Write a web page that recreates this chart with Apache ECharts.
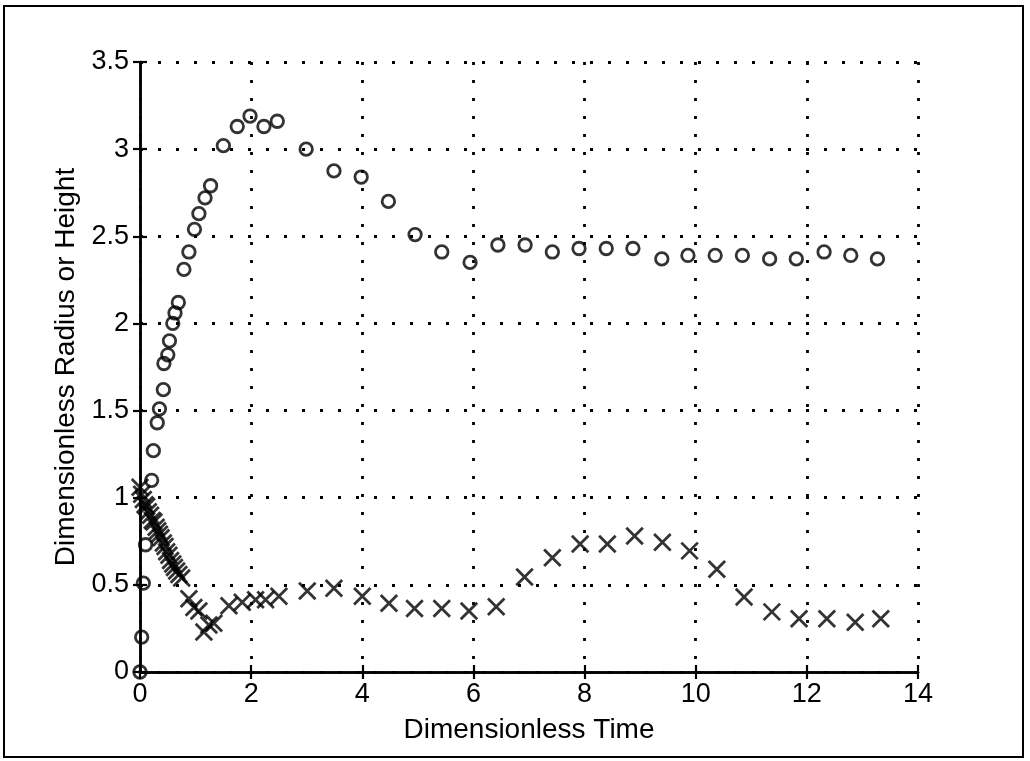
<!DOCTYPE html>
<html>
<head>
<meta charset="utf-8">
<script src="https://cdn.jsdelivr.net/npm/echarts@6/dist/echarts.min.js"></script>
<style>
  html, body { margin: 0; padding: 0; background: #fff; }
  #chart { width: 1030px; height: 761px; }
</style>
</head>
<body>
<div id="chart"></div>
<script>
// Dimensionless radius (circles) versus dimensionless time
const radiusTime = [0, 0.03, 0.06, 0.10, 0.21, 0.24, 0.31, 0.35, 0.42, 0.43, 0.50, 0.53,
  0.59, 0.63, 0.69, 0.79, 0.88, 0.98, 1.06, 1.17, 1.27, 1.50, 1.75, 1.98, 2.23, 2.47,
  2.99, 3.49, 3.98, 4.47, 4.95, 5.43, 5.94, 6.44, 6.93, 7.42, 7.90, 8.39, 8.87, 9.39,
  9.86, 10.35, 10.84, 11.33, 11.81, 12.31, 12.79, 13.27];
const radiusValues = [0, 0.20, 0.51, 0.73, 1.10, 1.27, 1.43, 1.51, 1.62, 1.77, 1.82, 1.90,
  2.00, 2.06, 2.12, 2.31, 2.41, 2.54, 2.63, 2.72, 2.79, 3.02, 3.13, 3.19, 3.13, 3.16,
  3.00, 2.875, 2.84, 2.70, 2.51, 2.41, 2.35, 2.45, 2.45, 2.41, 2.43, 2.43, 2.43, 2.37,
  2.39, 2.39, 2.39, 2.37, 2.37, 2.41, 2.39, 2.37];

// Dimensionless height (crosses) versus dimensionless time
const heightTime = [0, 0.03, 0.06, 0.09, 0.12, 0.15, 0.19, 0.22, 0.25, 0.29, 0.32, 0.35,
  0.38, 0.42, 0.45, 0.48, 0.52, 0.55, 0.59, 0.62, 0.66, 0.70, 0.75, 0.88, 0.97, 1.06,
  1.15, 1.24, 1.33, 1.60, 1.84, 2.08, 2.26, 2.50, 3.01, 3.49, 4.00, 4.48, 4.94, 5.43,
  5.92, 6.41, 6.92, 7.42, 7.92, 8.41, 8.90, 9.40, 9.89, 10.38, 10.87, 11.37, 11.86,
  12.36, 12.87, 13.33];
const heightValues = [1.06, 1.02, 0.99, 0.96, 0.95, 0.92, 0.90, 0.87, 0.86, 0.83, 0.81, 0.79,
  0.77, 0.74, 0.72, 0.69, 0.67, 0.64, 0.62, 0.60, 0.58, 0.56, 0.54, 0.42, 0.37, 0.35,
  0.23, 0.27, 0.28, 0.38, 0.40, 0.415, 0.415, 0.435, 0.465, 0.48, 0.435, 0.395, 0.365, 0.365,
  0.35, 0.375, 0.545, 0.655, 0.735, 0.735, 0.78, 0.745, 0.695, 0.59, 0.43, 0.345, 0.305,
  0.305, 0.285, 0.305];

const xTicks = { min: 0, max: 14, interval: 2 };
const yTicks = { min: 0, max: 3.5, interval: 0.5 };

const FONT = 'Liberation Sans, Arial, Helvetica, sans-serif';
const INK = '#000';

const pairs = (xs, ys) => xs.map((x, i) => [x, ys[i]]);

const gridDots = { show: true, lineStyle: { color: INK, width: 2.8, type: [3, 15] } };
const boxLine = { show: true, lineStyle: { color: INK, width: 2.5 } };
const innerTicks = { show: true, inside: true, length: 7, lineStyle: { color: INK, width: 2.2 } };

const chart = echarts.init(document.getElementById('chart'), null, { renderer: 'canvas' });
chart.setOption({
  backgroundColor: '#fff',
  animation: false,
  graphic: [{
    type: 'rect',
    shape: { x: 4, y: 6, width: 1019, height: 751 },
    style: { fill: 'none', stroke: INK, lineWidth: 2 },
    silent: true
  }],
  grid: { left: 140, top: 62, width: 778, height: 610, containLabel: false },
  xAxis: [{
    type: 'value', position: 'bottom', ...xTicks,
    name: 'Dimensionless Time', nameLocation: 'middle', nameGap: 44,
    nameTextStyle: { fontFamily: FONT, fontSize: 28, color: INK },
    axisLine: boxLine, axisTick: innerTicks, splitLine: gridDots,
    axisLabel: { fontFamily: FONT, fontSize: 27, color: INK, margin: 9 }
  }, {
    type: 'value', position: 'top', ...xTicks,
    axisLine: boxLine, axisTick: innerTicks, splitLine: { show: false },
    axisLabel: { show: false }
  }],
  yAxis: [{
    type: 'value', position: 'left', ...yTicks,
    name: 'Dimensionless Radius or Height', nameLocation: 'middle', nameGap: 53,
    nameTextStyle: { fontFamily: FONT, fontSize: 28, color: INK },
    axisLine: boxLine, axisTick: innerTicks, splitLine: gridDots,
    axisLabel: { fontFamily: FONT, fontSize: 27, color: INK, margin: 11 }
  }, {
    type: 'value', position: 'right', ...yTicks,
    axisLine: boxLine, axisTick: innerTicks, splitLine: { show: false },
    axisLabel: { show: false }
  }],
  series: [{
    name: 'Radius', type: 'scatter',
    data: pairs(radiusTime, radiusValues),
    symbol: 'circle', symbolSize: 12.5,
    itemStyle: { color: 'rgba(0,0,0,0)', borderColor: INK, borderWidth: 2.8 },
    z: 3
  }, {
    name: 'Height', type: 'scatter',
    data: pairs(heightTime, heightValues),
    symbol: 'path://M0,0L10,10M10,0L0,10', symbolSize: 16.5,
    itemStyle: { color: 'none', borderColor: INK, borderWidth: 2.8 },
    z: 4
  }]
});
</script>
</body>
</html>
